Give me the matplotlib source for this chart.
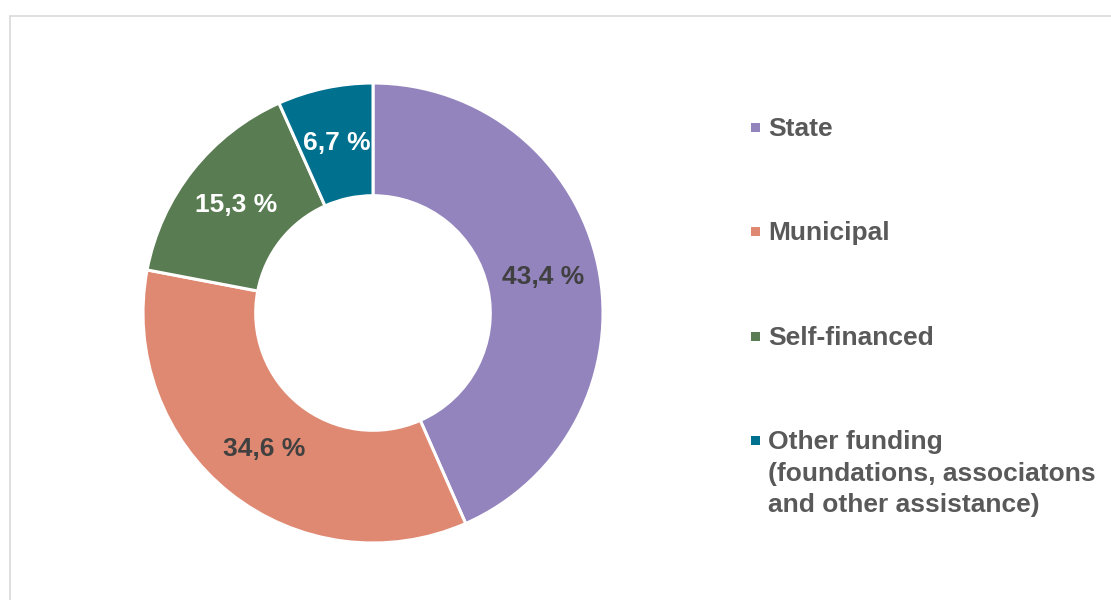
import matplotlib
matplotlib.use("Agg")
import matplotlib.pyplot as plt
from matplotlib.patches import Rectangle

categories = ["State", "Municipal", "Self-financed",
              "Other funding\n(foundations, associatons\nand other assistance)"]
values = [43.4, 34.6, 15.3, 6.7]
value_labels = ["43,4 %", "34,6 %", "15,3 %", "6,7 %"]
colors = ["#9384BE", "#E08972", "#5A7C52", "#00708F"]
label_colors = ["#404040", "#404040", "#FFFFFF", "#FFFFFF"]

plt.rcParams['font.family'] = ['Liberation Sans', 'DejaVu Sans']

W, H = 1111, 600
fig = plt.figure(figsize=(W / 100, H / 100), dpi=100)
fig.patch.set_facecolor("white")

# chart frame (extends beyond right and bottom edges)
fig.patches.append(Rectangle((10 / W, -0.2), 1.2, (H - 16) / H + 0.2, transform=fig.transFigure,
                             fill=False, edgecolor="#D9D9D9", linewidth=1.2))

# donut axes: center (373, 313), radius 230
cx, cy, R = 373, 313, 230
ax = fig.add_axes([(cx - R) / W, (H - cy - R) / H, 2 * R / W, 2 * R / H])
wedges, texts, autotexts = ax.pie(
    values, colors=colors, startangle=90, counterclock=False,
    radius=1.0, labels=None, autopct=lambda p: "", pctdistance=0.757,
    wedgeprops=dict(width=0.49, edgecolor="white", linewidth=2.2))
for t, lab, c in zip(autotexts, value_labels, label_colors):
    t.set_text(lab)
    t.set_color(c)
    t.set_fontsize(19)
    t.set_fontweight("bold")
ax.set_xlim(-1, 1)
ax.set_ylim(-1, 1)
ax.set_aspect("equal")
ax.axis("off")

# legend
leg_y = [127, 231, 336, 440]
for cat, col, y in zip(categories, colors, leg_y):
    fig.patches.append(Rectangle((751 / W, (H - y - 4.5) / H), 9 / W, 9 / H,
                                 transform=fig.transFigure, facecolor=col, edgecolor="none"))
    fig.text(768 / W, (H - y + 10) / H, cat, fontsize=19, fontweight="bold",
             color="#595959", ha="left", va="top", linespacing=1.4)

fig.savefig("out.png", dpi=100, facecolor="white")
